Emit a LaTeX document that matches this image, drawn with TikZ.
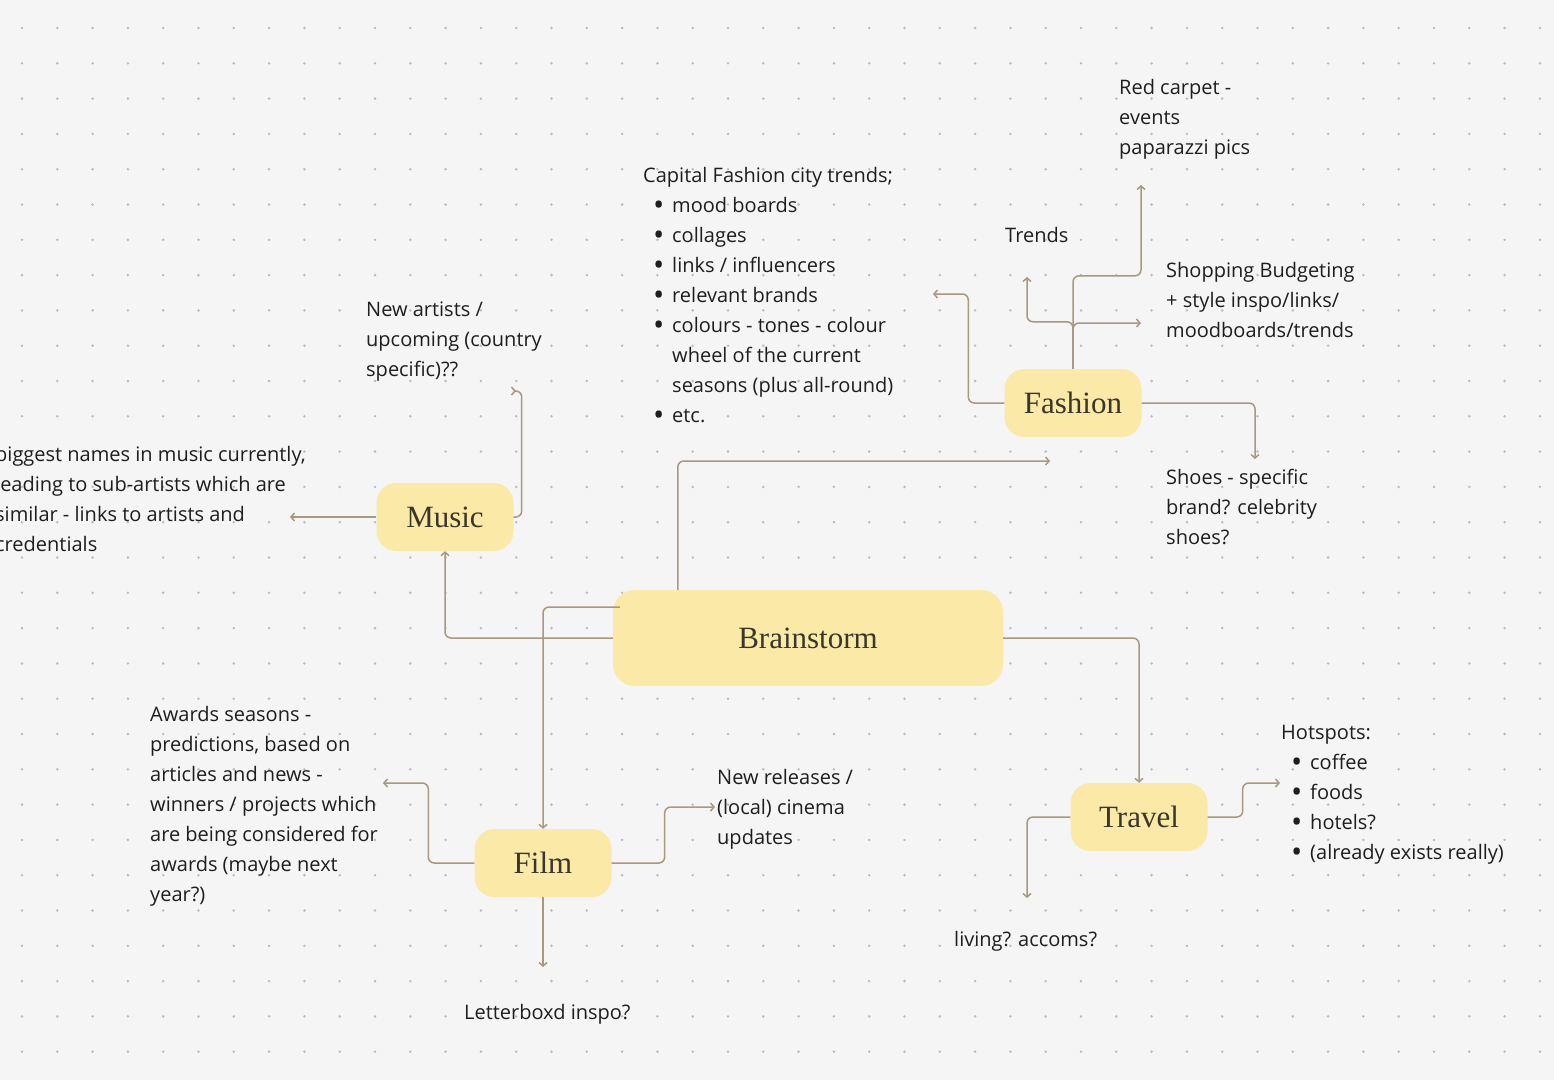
\documentclass[tikz,border=0pt]{standalone}
\usepackage{fontspec}
\setmainfont{Open Sans}
\newfontfamily\topicfont{Liberation Serif}
\usepackage{tikz}
\usetikzlibrary{arrows.meta}
\usepackage{xcolor}
\usepackage{graphicx}

\definecolor{canvas}{RGB}{245,245,245}
\definecolor{griddot}{RGB}{188,188,188}
\definecolor{topicfill}{RGB}{251,233,168}
\definecolor{linkline}{RGB}{168,152,128}
\definecolor{notetext}{RGB}{30,30,30}
\definecolor{topictext}{RGB}{58,54,42}

\newcommand{\bitem}[1]{\hspace*{10pt}\makebox[19pt][l]{\raisebox{-3.5pt}{\scalebox{1.5}{\textbullet}}}#1}
\newcommand{\bcont}[1]{\hspace*{29pt}#1}

\begin{document}
\begin{tikzpicture}[
  x=1pt, y=-1pt,
  topic/.style={fill=topicfill, rounded corners=20pt, minimum width=137pt, minimum height=68pt,
    inner sep=0pt, text=topictext, font=\topicfont\fontsize{31}{36}\selectfont},
  hub/.style={topic, minimum width=390pt, minimum height=96pt, rounded corners=22pt},
  note/.style={anchor=north west, inner sep=0pt, align=left, text=notetext,
    font=\fontsize{20}{30}\selectfont, execute at begin node={\rule{0pt}{20pt}}},
  arrow/.style={draw=linkline, line width=1.5pt, rounded corners=6pt,
    -{Straight Barb[length=3.5pt,width=8pt]}}
]
% canvas and dot grid
\useasboundingbox (0,0) rectangle (1554,1080);
\fill[canvas] (0,0) rectangle (1554,1080);
\foreach \i in {0,...,43}
  \foreach \j in {0,...,29}
    \fill[griddot] (22+35.3*\i, 28+35.3*\j) circle (1.4pt);

% topics
\node[hub] (brainstorm) at (808,638) {Brainstorm};
\node[topic] (fashion) at (1073,403) {Fashion};
\node[topic] (music) at (445,517) {Music};
\node[topic] (film) at (543,863) {Film};
\node[topic] (travel) at (1139,817) {Travel};

% notes (placed by the top of their first line)
\node[note] (redcarpet) at (1119,79) {Red carpet -\\events\\paparazzi pics};
\node[note] (trends) at (1005,222) {Trends};
\node[note] (shopping) at (1166,262) {Shopping Budgeting\\+ style inspo/links/\\moodboards/trends};
\node[note] (capital) at (643,167) {Capital Fashion city trends;\\
  \bitem{mood boards}\\
  \bitem{collages}\\
  \bitem{links / influencers}\\
  \bitem{relevant brands}\\
  \bitem{colours - tones - colour}\\
  \bcont{wheel of the current}\\
  \bcont{seasons (plus all-round)}\\
  \bitem{etc.}};
\node[note] (shoes) at (1166,469) {Shoes - specific\\brand? celebrity\\shoes?};
\node[note] (artists) at (366,302) {New artists /\\upcoming (country\\specific)??};
\node[note] (biggest) at (-5,446) {biggest names in music currently,\\leading to sub-artists which are\\similar - links to artists and\\credentials};
\node[note] (awards) at (150,706) {Awards seasons -\\predictions, based on\\articles and news -\\winners / projects which\\are being considered for\\awards (maybe next\\year?)};
\node[note] (releases) at (717,769) {New releases /\\(local) cinema\\updates};
\node[note] (letterboxd) at (464,999) {Letterboxd inspo?};
\node[note] (hotspots) at (1281,725) {Hotspots:\\
  \bitem{coffee}\\
  \bitem{foods}\\
  \bitem{hotels?}\\
  \bitem{(already exists really)}};
\node[note] (living) at (954,926) {living? accoms?};

% free ends of the connectors
\coordinate (fashion-in) at (1050,461);
\coordinate (redcarpet-in) at (1141,185);
\coordinate (trends-in) at (1027,277);
\coordinate (shopping-in) at (1141,323);
\coordinate (capital-in) at (933,294);
\coordinate (shoes-in) at (1255,459);
\coordinate (biggest-in) at (290,517);
\coordinate (artists-in) at (516,391);
\coordinate (awards-in) at (383,783);
\coordinate (releases-in) at (715,807);
\coordinate (letterboxd-in) at (543,967);
\coordinate (living-in) at (1027,898);
\coordinate (hotspots-in) at (1280,783);

% brainstorm links
\draw[arrow] ([xshift=65pt]brainstorm.north west) |- (fashion-in);
\draw[arrow] (brainstorm.west) -| (music.south);
\draw[arrow] ([xshift=7pt,yshift=31pt]brainstorm.west) -| (film.north);
\draw[arrow] (brainstorm.east) -| (travel.north);

% fashion links
\draw[arrow] (fashion.north) -- ++(0,-93) -| (redcarpet-in);
\draw[arrow] (fashion.north) -- ++(0,-47) -| (trends-in);
\draw[arrow] (fashion.north) |- (shopping-in);
\draw[arrow] (fashion.west) -- ++(-36,0) |- (capital-in);
\draw[arrow] (fashion.east) -| (shoes-in);

% music links
\draw[arrow] (music.west) -- (biggest-in);
\draw[arrow] (music.east) -- ++(8,0) |- (artists-in);

% film links
\draw[arrow] (film.west) -- ++(-46,0) |- (awards-in);
\draw[arrow] (film.east) -- ++(53,0) |- (releases-in);
\draw[arrow] (film.south) -- (letterboxd-in);

% travel links
\draw[arrow] (travel.west) -| (living-in);
\draw[arrow] (travel.east) -- ++(35,0) |- (hotspots-in);
\end{tikzpicture}
\end{document}
